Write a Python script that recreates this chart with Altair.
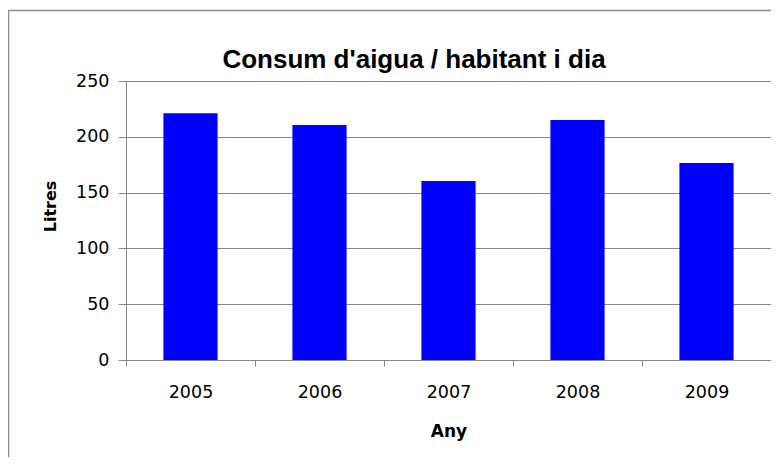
import altair as alt
import pandas as pd

years = ["2005", "2006", "2007", "2008", "2009"]
litres = [221, 210.5, 160.5, 215, 176.5]
y_ticks = [0, 50, 100, 150, 200, 250]
title_text = "Consum d'aigua / habitant i dia"

df = pd.DataFrame({"Any": years, "Litres": litres})

GRAY = "#868686"

bars = alt.Chart(df).mark_bar(
    color="#0000FF", width=alt.RelativeBandSize(0.42)
).encode(
    x=alt.X(
        "Any:N",
        sort=years,
        scale=alt.Scale(paddingInner=0, paddingOuter=0),
        axis=alt.Axis(
            title="Any",
            labelAngle=0,
            tickBand="extent",
            grid=False,
            tickSize=6,
            tickColor=GRAY,
            domainColor=GRAY,
            labelFont="DejaVu Sans",
            labelFontSize=17.5,
            labelColor="#000000",
            labelPadding=17,
            titleFont="DejaVu Sans",
            titleFontSize=17,
            titleFontWeight="bold",
            titleColor="#000000",
            titleBaseline="alphabetic",
            titleAlign="center",
            titleY=76,
        ),
    ),
    y=alt.Y(
        "Litres:Q",
        scale=alt.Scale(domain=[0, 250], nice=False),
        axis=alt.Axis(
            title="Litres",
            values=y_ticks,
            grid=True,
            gridColor=GRAY,
            gridWidth=1,
            tickSize=8,
            tickColor=GRAY,
            domainColor=GRAY,
            labelFont="DejaVu Sans",
            labelFontSize=17.5,
            labelColor="#000000",
            labelPadding=9,
            titleFont="DejaVu Sans",
            titleFontSize=16,
            titleFontWeight="bold",
            titleColor="#000000",
            titleAngle=-90,
            titleAlign="center",
            titleBaseline="alphabetic",
            titleX=-71,
            titleY=125,
        ),
    ),
)

one = pd.DataFrame({"f": [0]})

frame = alt.Chart(one).mark_rect(
    fill="transparent", stroke="#8a8a8a", strokeWidth=1.5, clip=False
).encode(
    x=alt.value(-117.5),
    y=alt.value(-70.5),
    x2=alt.value(700),
    y2=alt.value(500),
)

title = alt.Chart(one).mark_text(
    font="Liberation Sans",
    fontSize=26,
    fontWeight="bold",
    color="#000000",
    align="center",
    baseline="alphabetic",
).encode(
    x=alt.value(288),
    y=alt.value(-13),
    text=alt.value(title_text),
)

chart = alt.layer(frame, bars, title).properties(
    width=645,
    height=279,
    autosize=alt.AutoSizeParams(type="none"),
    padding={"left": 118, "top": 73, "right": 0, "bottom": 97},
).configure_view(strokeWidth=0).configure(background="white")

chart.save("out.html", embed_options={"renderer": "svg", "actions": False})
